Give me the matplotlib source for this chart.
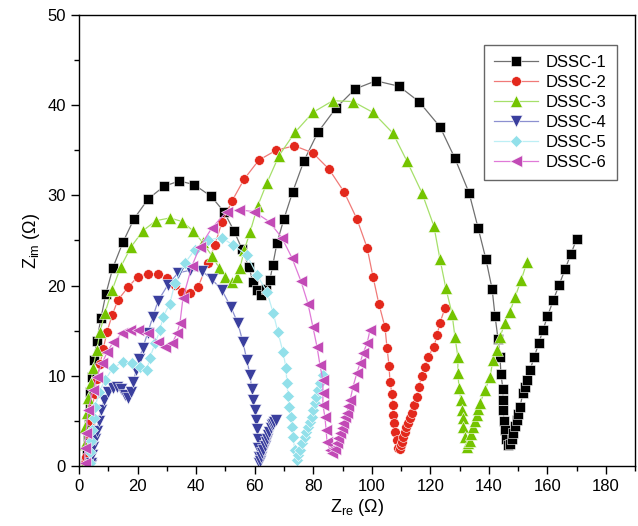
import matplotlib.pyplot as plt
from matplotlib.ticker import MultipleLocator

plt.rcParams['font.family'] = ['Liberation Sans', 'DejaVu Sans']

labels = ['DSSC-1', 'DSSC-2', 'DSSC-3', 'DSSC-4', 'DSSC-5', 'DSSC-6']

# DSSC-1
z1_re = [2.5, 2.8, 3.1, 3.4, 3.6, 3.8, 4.4, 5.1, 6.1, 7.5, 9.2, 11.6, 15.0, 18.8, 23.6, 29.0,
         34.2, 39.3, 45.1, 49.5, 52.9, 55.6, 58.0, 59.4, 60.7, 62.0, 63.8, 65.2, 66.2, 67.6,
         70.0, 73.0, 76.8, 81.6, 87.8, 94.3, 101.4, 109.3, 116.1, 123.3, 128.4, 133.2, 136.3,
         139.0, 141.1, 142.1, 143.1, 143.8, 144.1, 144.8, 144.8, 144.8, 145.2, 145.6, 146.0,
         146.5, 147.2, 147.8, 148.2, 148.9, 149.6, 150.1, 150.6, 151.6, 152.3, 153.0, 154.0,
         155.5, 157.0, 158.5, 160.0, 162.0, 164.0, 166.0, 168.0, 170.0]
z1_im = [0.3, 1.6, 3.0, 4.6, 6.4, 8.2, 9.9, 11.8, 13.9, 16.4, 19.1, 22.0, 24.8, 27.4, 29.6, 31.0,
         31.6, 31.2, 29.9, 28.2, 26.1, 24.1, 22.1, 20.4, 19.5, 19.0, 19.6, 20.6, 22.3, 24.7,
         27.4, 30.4, 33.8, 37.0, 39.7, 41.8, 42.7, 42.1, 40.4, 37.6, 34.1, 30.3, 26.4,
         22.9, 19.6, 16.6, 14.1, 12.1, 10.2, 8.5, 7.3, 6.2, 5.0, 4.0, 3.0,
         2.3, 2.4, 3.0, 3.7, 4.4, 5.1, 5.8, 6.5, 8.1, 8.8, 9.5, 10.6,
         12.1, 13.6, 15.1, 16.6, 18.4, 20.1, 21.8, 23.5, 25.2]

# DSSC-2
z2_re = [2.0, 2.5, 3.0, 3.5, 4.0, 4.6, 5.3, 6.1, 7.2, 8.3, 9.6, 11.3, 13.3, 16.7, 20.1, 23.6,
         27.0, 30.0, 32.8, 35.2, 37.9, 40.6, 44.0, 46.4, 48.8, 52.3, 56.4, 61.4, 67.3, 73.6, 79.9,
         85.4, 90.5, 94.9, 98.4, 100.4, 102.4, 104.5, 105.2, 105.9, 106.2, 106.9, 107.2, 107.2,
         107.6, 108.0, 108.6, 108.9, 109.5, 109.9, 110.3, 110.8, 111.3, 111.8, 112.4, 113.0,
         113.7, 114.4, 115.4, 116.1, 117.1, 118.2, 119.2, 121.2, 122.3, 123.3, 125.0]
z2_im = [0.3, 1.0, 2.3, 3.5, 5.0, 6.5, 8.0, 9.6, 11.3, 13.0, 14.9, 16.7, 18.4, 19.8, 21.0, 21.3,
         21.3, 20.8, 20.1, 19.3, 19.2, 19.8, 22.5, 24.5, 27.0, 29.4, 31.8, 33.9, 35.0, 35.5, 34.7,
         32.9, 30.4, 27.4, 24.2, 21.0, 18.0, 15.4, 13.1, 11.1, 9.3, 8.0, 6.8, 5.7,
         4.8, 3.8, 2.9, 2.0, 1.9, 2.3, 2.7, 3.2, 3.8, 4.3, 4.8, 5.3,
         5.9, 6.8, 7.7, 8.8, 10.0, 11.0, 12.1, 13.2, 14.5, 15.9, 17.5]

# DSSC-3
z3_re = [2.0, 2.0, 2.0, 2.7, 3.1, 4.1, 4.8, 6.1, 7.2, 8.9, 11.3, 14.3, 17.8, 21.9, 26.3, 31.1,
         35.2, 38.9, 42.2, 45.4, 47.8, 49.9, 52.3, 53.9, 55.0, 56.5, 58.4, 61.0, 64.2, 68.3, 73.8,
         79.9, 86.7, 93.6, 100.4, 107.2, 112.0, 117.1, 121.2, 123.3, 125.3, 127.4, 128.4, 129.4,
         129.4, 129.8, 130.5, 130.8, 131.1, 131.1, 131.8, 132.5, 133.0, 133.5, 134.0, 134.6,
         135.2, 135.8, 136.4, 137.0, 138.7, 140.4, 141.4, 142.8, 143.8, 145.5, 147.2, 148.9,
         151.0, 153.0]
z3_im = [0.3, 2.4, 4.3, 5.9, 7.5, 9.2, 10.9, 12.9, 14.9, 17.0, 19.5, 22.1, 24.3, 26.1, 27.2, 27.5,
         27.1, 26.1, 24.8, 23.3, 22.0, 21.0, 20.4, 21.0, 22.0, 24.0, 25.9, 28.8, 31.4, 34.4, 37.0,
         39.2, 40.5, 40.4, 39.2, 36.9, 33.8, 30.3, 26.6, 22.9, 19.7, 16.9, 14.3, 12.1,
         10.3, 8.6, 7.3, 6.2, 5.3, 4.3, 3.2, 2.1, 2.5, 2.8, 3.6, 4.3,
         5.0, 5.6, 6.3, 7.0, 8.4, 9.9, 11.8, 12.9, 14.3, 15.9, 17.1, 18.7,
         20.6, 22.6]

# DSSC-4
z4_re = [4.0, 4.2, 4.5, 4.9, 5.4, 6.0, 6.8, 7.6, 8.6, 10.0, 11.5, 13.0, 14.5, 15.8, 16.8, 17.8,
         18.6, 19.5, 20.6, 21.8, 23.4, 25.2, 27.0, 30.4, 33.8, 37.9, 42.0, 45.4, 48.8, 51.9, 54.3,
         56.0, 57.3, 58.4, 59.0, 59.4, 60.0, 60.4, 60.7, 61.0, 61.2, 61.4, 61.5, 61.8, 62.2, 62.6,
         63.0, 63.4, 63.8, 64.2, 64.6, 65.0, 65.5, 65.9, 66.3, 66.7, 67.2]
z4_im = [0.1, 0.3, 1.2, 2.1, 3.0, 3.9, 5.0, 6.2, 7.3, 8.2, 8.7, 8.8, 8.5, 7.9, 7.5, 8.2,
         9.3, 10.6, 11.9, 13.1, 14.7, 16.5, 18.3, 20.1, 21.4, 21.7, 21.6, 20.7, 19.5, 17.6, 15.8,
         13.7, 11.8, 10.1, 8.5, 7.3, 6.2, 5.1, 4.1, 3.0, 2.0, 1.0, 0.3, 0.6, 1.0, 1.4,
         1.8, 2.2, 2.7, 3.0, 3.4, 3.8, 4.2, 4.5, 4.7, 4.9, 5.1]

# DSSC-5
z5_re = [3.6, 3.8, 4.1, 4.5, 5.0, 5.5, 6.8, 8.9, 11.6, 15.0, 18.1, 20.8, 23.2, 24.2, 26.0, 27.7,
         28.7, 31.0, 32.8, 36.2, 39.6, 44.0, 48.8, 52.6, 57.3, 60.8, 64.2, 66.3, 67.9, 69.7, 70.7,
         71.0, 71.4, 71.7, 72.4, 72.7, 73.1, 73.7, 74.4, 74.9, 75.5, 76.3, 77.2, 77.7, 78.2, 78.8,
         79.5, 80.0, 80.6, 81.1, 81.6, 82.4, 83.3]
z5_im = [0.3, 1.5, 2.8, 4.0, 5.3, 6.5, 8.2, 9.5, 10.9, 11.5, 11.4, 11.0, 10.6, 12.0, 13.6, 15.1,
         16.5, 18.0, 20.3, 22.5, 24.0, 25.1, 25.3, 24.5, 23.4, 21.2, 19.3, 17.0, 14.9, 12.6, 10.9,
         9.2, 7.8, 6.5, 5.4, 4.3, 3.2, 1.8, 0.7, 1.2, 1.8, 2.5, 3.2, 3.8, 4.3, 4.9,
         5.4, 6.2, 7.0, 7.7, 8.4, 9.2, 10.1]

# DSSC-6
z6_re = [2.0, 2.0, 2.4, 3.1, 4.8, 6.1, 7.9, 9.6, 11.6, 14.7, 17.4, 20.1, 23.6, 27.0, 29.4, 31.8,
         33.5, 34.5, 35.5, 38.6, 41.3, 45.4, 50.5, 54.6, 59.8, 64.9, 69.3, 72.7, 75.8, 78.2, 79.9,
         81.3, 82.3, 83.3, 83.3, 83.3, 84.0, 84.4, 84.7, 85.7, 86.4, 87.3, 88.1, 88.6, 89.1, 89.7,
         90.2, 90.9, 91.5, 92.0, 92.6, 93.6, 94.9, 96.0, 97.0, 98.4, 99.4]
z6_im = [0.3, 2.0, 3.7, 6.2, 8.4, 9.9, 11.4, 12.6, 13.7, 14.7, 15.1, 15.1, 14.7, 13.7, 13.2, 13.6,
         14.7, 15.9, 18.6, 22.2, 24.3, 26.4, 28.2, 28.4, 28.2, 27.1, 25.3, 23.1, 20.5, 18.0, 15.4,
         13.2, 11.2, 9.5, 8.1, 6.8, 5.4, 4.0, 2.7, 1.8, 1.4, 1.9, 2.5, 3.1, 3.7, 4.2,
         4.8, 5.4, 5.9, 6.6, 7.3, 8.8, 10.3, 11.4, 12.5, 13.6, 15.1]

series = [(z1_re, z1_im), (z2_re, z2_im), (z3_re, z3_im),
          (z4_re, z4_im), (z5_re, z5_im), (z6_re, z6_im)]
markers = ['s', 'o', '^', 'v', 'D', '<']
sizes = [6.5, 7, 8, 8, 6.5, 8]
colors = ['#000000', '#e3281c', '#74c400', '#3a3f9e', '#92e0ea', '#c24ab6']
line_colors = ['#707070', '#f07a78', '#a6e06a', '#8c90d0', '#bdeff5', '#e07ad8']

fig = plt.figure(figsize=(6.38, 5.26), dpi=100)
ax = fig.add_axes([0.1238, 0.1141, 0.872, 0.8574])

for (xs, ys), lab, m, s, c, lc in zip(series, labels, markers, sizes, colors, line_colors):
    ax.plot(xs, ys, color=lc, lw=0.9, marker=m, ms=s, mfc=c, mec='white', mew=0.4, label=lab)

ax.set_xlim(0, 190)
ax.set_ylim(0, 50)
ax.xaxis.set_major_locator(MultipleLocator(20))
ax.xaxis.set_minor_locator(MultipleLocator(10))
ax.yaxis.set_major_locator(MultipleLocator(10))
ax.yaxis.set_minor_locator(MultipleLocator(5))
ax.tick_params(which='major', direction='out', length=6, width=1, labelsize=12)
ax.tick_params(which='minor', direction='out', length=3.5, width=1)
for sp in ax.spines.values():
    sp.set_linewidth(1)

ax.set_xlabel(r'Z$_\mathregular{re}$ (Ω)', fontsize=13, labelpad=2)
ax.set_ylabel(r'Z$_\mathregular{im}$ (Ω)', fontsize=13, labelpad=4)

leg = ax.legend(loc='upper right', bbox_to_anchor=(0.967, 0.933), borderaxespad=0,
                fontsize=12, fancybox=False, edgecolor='#666666', framealpha=1,
                handlelength=2.6, borderpad=0.6, labelspacing=0.3, handletextpad=0.5)
leg.get_frame().set_linewidth(1)

fig.savefig('out.png', dpi=100)
